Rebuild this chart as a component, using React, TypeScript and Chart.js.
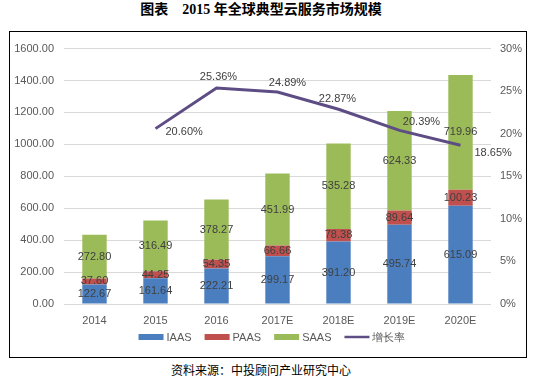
import React, { useEffect, useRef } from "react";
import { Chart, registerables } from "chart.js";

Chart.register(...registerables);

const categories = ["2014", "2015", "2016", "2017E", "2018E", "2019E", "2020E"];
const iaas = [122.67, 161.64, 222.21, 299.17, 391.2, 495.74, 615.09];
const paas = [37.6, 44.25, 54.35, 66.66, 78.38, 89.64, 100.23];
const saas = [272.8, 316.49, 378.27, 451.99, 535.28, 624.33, 719.96];
const growth: (number | null)[] = [null, 20.6, 25.36, 24.89, 22.87, 20.39, 18.65];
const leftTicks = [0, 200, 400, 600, 800, 1000, 1200, 1400, 1600];
const rightTicks = [0, 5, 10, 15, 20, 25, 30];

const seriesNames = ["IAAS", "PAAS", "SAAS", "增长率"];
const colors = ["#4a7ebf", "#c0504d", "#9bbb59", "#5e4d85"];
// label placement for growth labels: [dx, dy, align]
const growthLabelPos: [number, number, CanvasTextAlign][] = [
  [0, 0, "center"],
  [10, 3, "left"],
  [2, -11, "center"],
  [10, -9, "center"],
  [-1, -10, "center"],
  [22, -8, "center"],
  [14, 8, "left"],
];

const FONT = "'Liberation Sans', Arial, sans-serif";
const TXT = "#595959";

const labelPlugin = {
  id: "labels",
  afterDatasetsDraw(chart: any) {
    const ctx = chart.ctx;
    ctx.save();
    ctx.font = `11px ${FONT}`;
    ctx.textBaseline = "middle";
    [0, 1, 2].forEach((di) => {
      const meta = chart.getDatasetMeta(di);
      const data = chart.data.datasets[di].data as number[];
      meta.data.forEach((el: any, i: number) => {
        const y = (el.y + el.base) / 2;
        ctx.textAlign = "center";
        ctx.fillStyle = "#404040";
        ctx.fillText(data[i].toFixed(2), el.x, y);
      });
    });
    const lm = chart.getDatasetMeta(3);
    lm.data.forEach((el: any, i: number) => {
      const v = growth[i];
      if (v == null) return;
      const [dx, dy, al] = growthLabelPos[i];
      ctx.textAlign = al;
      ctx.fillStyle = "#404040";
      ctx.fillText(v.toFixed(2) + "%", el.x + dx, el.y + dy);
    });
    // legend
    const items = seriesNames.map((n, i) => ({ n, c: colors[i], line: i === 3 }));
    ctx.font = `11px ${FONT}`;
    const boxW = 25;
    const gap = 3;
    const spacing = 13;
    const widths = items.map((it) => boxW + gap + ctx.measureText(it.n).width);
    const total = widths.reduce((a, b) => a + b, 0) + spacing * (items.length - 1);
    let x = (chart.width - total) / 2 + 4;
    const ly = 305;
    items.forEach((it, i) => {
      if (it.line) {
        ctx.strokeStyle = it.c;
        ctx.lineWidth = 2.5;
        ctx.beginPath();
        ctx.moveTo(x, ly);
        ctx.lineTo(x + boxW, ly);
        ctx.stroke();
      } else {
        ctx.fillStyle = it.c;
        ctx.fillRect(x, ly - 3, boxW, 6);
      }
      ctx.fillStyle = TXT;
      ctx.textAlign = "left";
      ctx.fillText(it.n, x + boxW + gap, ly + 1);
      x += widths[i] + spacing;
    });
    ctx.restore();
  },
};

export default function App() {
  const ref = useRef<HTMLCanvasElement>(null);
  useEffect(() => {
    const chart = new Chart(ref.current!, {
      type: "bar",
      data: {
        labels: categories,
        datasets: [
          { label: seriesNames[0], data: iaas, backgroundColor: colors[0], yAxisID: "y", stack: "s", barPercentage: 0.4, categoryPercentage: 1, order: 2 },
          { label: seriesNames[1], data: paas, backgroundColor: colors[1], yAxisID: "y", stack: "s", barPercentage: 0.4, categoryPercentage: 1, order: 2 },
          { label: seriesNames[2], data: saas, backgroundColor: colors[2], yAxisID: "y", stack: "s", barPercentage: 0.4, categoryPercentage: 1, order: 2 },
          {
            type: "line",
            label: seriesNames[3],
            data: growth,
            borderColor: colors[3],
            backgroundColor: colors[3],
            borderWidth: 3,
            pointRadius: 0,
            tension: 0,
            yAxisID: "y1",
            order: 1,
          } as any,
        ],
      },
      options: {
        animation: false,
        responsive: false,
        maintainAspectRatio: false,
        layout: { padding: { top: 10, left: 0, right: 0, bottom: 0 } },
        plugins: { legend: { display: false }, tooltip: { enabled: false } },
        scales: {
          x: {
            stacked: true,
            grid: { display: false, drawTicks: false },
            border: { display: false },
            ticks: { font: { size: 11, family: FONT }, color: TXT, padding: 10 },
            afterFit: (s: any) => { s.height = 53; },
          },
          y: {
            stacked: true,
            position: "left",
            min: leftTicks[0],
            max: leftTicks[leftTicks.length - 1],
            afterBuildTicks: (s: any) => { s.ticks = leftTicks.map((v) => ({ value: v })); },
            grid: { color: "#d9d9d9", drawTicks: false },
            border: { display: false },
            ticks: { font: { size: 11, family: FONT }, color: TXT, padding: 10, callback: (v: any) => Number(v).toFixed(2) },
            afterFit: (s: any) => { s.width = 54; },
          },
          y1: {
            position: "right",
            min: rightTicks[0],
            max: rightTicks[rightTicks.length - 1],
            afterBuildTicks: (s: any) => { s.ticks = rightTicks.map((v) => ({ value: v })); },
            grid: { display: false, drawTicks: false },
            border: { display: false },
            ticks: { font: { size: 11, family: FONT }, color: TXT, padding: 9, callback: (v: any) => v + "%" },
            afterFit: (s: any) => { s.width = 35; },
          },
        },
      },
      plugins: [labelPlugin],
    });
    return () => chart.destroy();
  }, []);

  return (
    <div style={{ position: "fixed", left: 0, top: 0, width: 536, height: 384, background: "#fff" }}>
      <div
        style={{
          position: "absolute",
          left: 0,
          top: 2,
          width: 522,
          textAlign: "center",
          fontFamily: "'Liberation Serif', 'Noto Sans CJK SC', serif",
          fontWeight: "bold",
          fontSize: 14,
          lineHeight: "16px",
          color: "#000",
        }}
      >
        图表　2015 年全球典型云服务市场规模
      </div>
      <div
        style={{
          position: "absolute",
          left: 9,
          top: 31,
          width: 516,
          height: 325,
          border: "1px solid #000",
        }}
      >
        <canvas ref={ref} width={516} height={325} style={{ display: "block", width: 516, height: 325 }} />
      </div>
      <div
        style={{
          position: "absolute",
          left: 0,
          top: 362,
          width: 522,
          textAlign: "center",
          fontFamily: "'Noto Sans CJK SC', sans-serif",
          fontSize: 12,
          lineHeight: "16px",
          color: "#000",
        }}
      >
        资料来源：中投顾问产业研究中心
      </div>
    </div>
  );
}
